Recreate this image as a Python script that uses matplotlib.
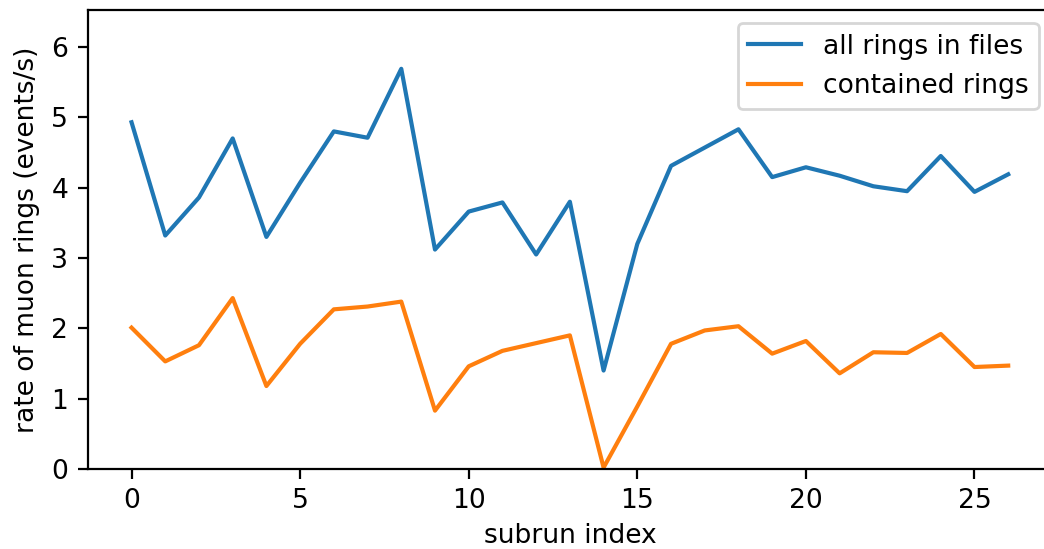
import matplotlib
matplotlib.use("Agg")
import matplotlib.pyplot as plt

subrun = list(range(27))
all_rings = [4.93, 3.32, 3.86, 4.70, 3.30, 4.07, 4.80, 4.71, 5.69, 3.12,
             3.66, 3.79, 3.05, 3.80, 1.40, 3.20, 4.31, 4.57, 4.83, 4.15,
             4.29, 4.17, 4.02, 3.95, 4.45, 3.94, 4.19]
contained = [2.01, 1.53, 1.76, 2.43, 1.18, 1.78, 2.27, 2.31, 2.38, 0.83,
             1.46, 1.68, 1.79, 1.90, 0.02, 0.89, 1.78, 1.97, 2.03, 1.64,
             1.82, 1.36, 1.66, 1.65, 1.92, 1.45, 1.47]

plt.rcParams['font.size'] = 9.55

fig = plt.figure(figsize=(5.22, 2.745), dpi=200)
ax = fig.add_axes([0.0840, 0.1457, 0.9237, 0.8366])
ax.plot(subrun, all_rings, label="all rings in files")
ax.plot(subrun, contained, label="contained rings")
ax.set_ylim(0, 6.53)
ax.set_xlabel("subrun index", labelpad=3.2)
ax.set_ylabel("rate of muon rings (events/s)")
ax.legend(loc="upper right")
fig.savefig("out.png", dpi=200)
